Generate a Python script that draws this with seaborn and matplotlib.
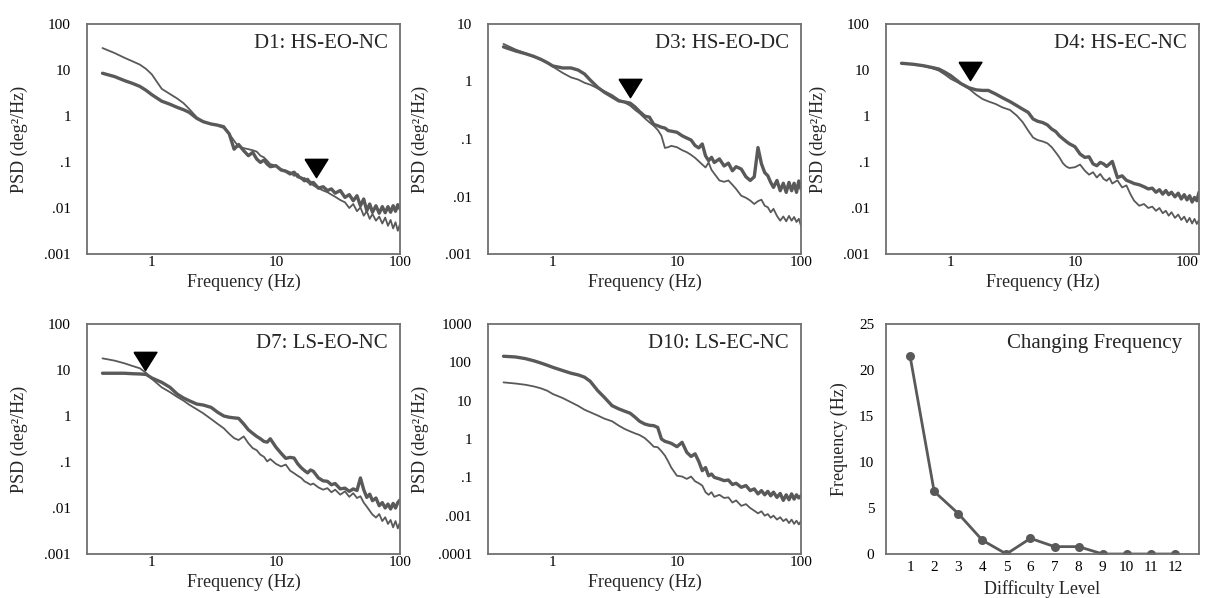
import matplotlib
matplotlib.use("Agg")
import matplotlib.pyplot as plt
import seaborn as sns

# frequency grid shared by all PSD panels (Hz)
freq_hz = [0.4, 0.5, 0.6, 0.7, 0.8, 0.9, 1.0, 1.2, 1.4, 1.6, 1.8, 2.0, 2.3, 2.6,
           3.0, 3.4, 3.8, 4.2, 4.6, 5.0, 5.5, 6.0, 6.5, 7.0, 7.5, 8.0, 8.5, 9.0,
           10, 11, 12, 13, 14, 15, 16, 17, 18, 19, 20, 22, 24, 26, 28, 30,
           33, 36, 39, 42, 45, 48, 51, 54, 57, 60, 64, 68, 72, 76, 80, 84, 88, 92, 96, 100]

# D1: HS-EO-NC
d1_thick = [8.5, 7.2, 5.9, 5.1, 4.4, 3.6, 2.9, 2.1, 1.8, 1.54, 1.37, 1.2, 0.89, 0.75,
            0.67, 0.63, 0.57, 0.41, 0.19, 0.24, 0.176, 0.137, 0.162, 0.116, 0.098, 0.110, 0.090, 0.079,
            0.083, 0.067, 0.063, 0.055, 0.060, 0.048, 0.045, 0.039, 0.042, 0.033, 0.036,
            0.027, 0.029, 0.024, 0.026, 0.021,
            0.024, 0.017, 0.0195, 0.0144, 0.0185, 0.0112, 0.0157, 0.0087, 0.0122, 0.0081,
            0.0112, 0.0077, 0.0107, 0.0079, 0.0107, 0.0081, 0.0112, 0.0085, 0.0118, 0.0095]
d1_thin = [30, 23.4, 18.5, 15.4, 13.1, 10.5, 8.0, 3.9, 3.0, 2.4, 1.9, 1.42, 0.94, 0.75,
           0.67, 0.64, 0.61, 0.41, 0.29, 0.215, 0.20, 0.19, 0.18, 0.168, 0.137, 0.126, 0.107, 0.090,
           0.083, 0.070, 0.065, 0.060, 0.050, 0.055, 0.043, 0.045, 0.036, 0.038, 0.031,
           0.027, 0.024, 0.022, 0.0195, 0.0176,
           0.0149, 0.0133, 0.0100, 0.0122, 0.0085, 0.0103, 0.0068, 0.0085, 0.0058, 0.0074,
           0.0053, 0.0065, 0.0046, 0.0062, 0.0041, 0.0055, 0.0036, 0.0049, 0.0032, 0.0045]

# D3: HS-EO-DC
d3_thick = [4.0, 3.4, 3.05, 2.74, 2.43, 2.13, 1.86, 1.72, 1.72, 1.58, 1.35, 1.06, 0.79, 0.65,
            0.54, 0.46, 0.44, 0.42, 0.36, 0.30, 0.25, 0.24, 0.18, 0.17, 0.16, 0.155, 0.14, 0.137,
            0.131, 0.114, 0.104, 0.096, 0.077, 0.070, 0.082, 0.051, 0.042, 0.048, 0.039,
            0.045, 0.034, 0.038, 0.028, 0.033,
            0.030, 0.022, 0.019, 0.022, 0.071, 0.037, 0.026, 0.023, 0.0176, 0.0144,
            0.019, 0.0126, 0.017, 0.0118, 0.0176, 0.0126, 0.017, 0.0118, 0.0186, 0.0135]
d3_thin = [4.5, 3.6, 3.1, 2.7, 2.4, 2.13, 1.81, 1.41, 1.18, 1.08, 0.95, 0.88, 0.76, 0.68,
           0.58, 0.48, 0.43, 0.38, 0.32, 0.28, 0.23, 0.195, 0.17, 0.144, 0.114, 0.070, 0.072, 0.076,
           0.072, 0.064, 0.059, 0.053, 0.047, 0.041, 0.036, 0.032, 0.039, 0.029, 0.025,
           0.019, 0.018, 0.019, 0.016, 0.0135,
           0.0103, 0.0095, 0.0085, 0.0074, 0.0083, 0.0088, 0.0069, 0.0065, 0.0053, 0.0061,
           0.0046, 0.0038, 0.0045, 0.0037, 0.0046, 0.0038, 0.0044, 0.0036, 0.0041, 0.0031]

# D4: HS-EC-NC
d4_thick = [14.0, 13.3, 12.4, 11.4, 10.5, 8.9, 7.5, 5.1, 4.1, 3.7, 3.6, 3.6, 3.0, 2.5,
            2.05, 1.68, 1.40, 1.20, 0.86, 0.77, 0.72, 0.64, 0.52, 0.46, 0.37, 0.32, 0.28, 0.25,
            0.215, 0.149, 0.126, 0.13, 0.091, 0.083, 0.098, 0.091, 0.080, 0.091, 0.103,
            0.046, 0.050, 0.040, 0.037, 0.034,
            0.032, 0.029, 0.026, 0.027, 0.022, 0.025, 0.020, 0.024, 0.0195, 0.022,
            0.0175, 0.021, 0.0157, 0.0195, 0.015, 0.0185, 0.0135, 0.017, 0.0144, 0.022]
d4_thin = [14.0, 13.3, 12.2, 11.0, 9.7, 7.9, 6.4, 5.0, 3.9, 2.9, 2.34, 2.08, 1.82, 1.54,
           1.35, 1.02, 0.73, 0.48, 0.34, 0.30, 0.28, 0.255, 0.21, 0.162, 0.126, 0.094, 0.080, 0.074,
           0.077, 0.088, 0.065, 0.053, 0.060, 0.046, 0.055, 0.043, 0.039, 0.045, 0.034,
           0.040, 0.028, 0.031, 0.020, 0.0144,
           0.0112, 0.0122, 0.0100, 0.0107, 0.0087, 0.0100, 0.0077, 0.0087, 0.0068, 0.0081,
           0.0061, 0.0072, 0.0055, 0.0065, 0.0049, 0.0061, 0.0046, 0.0058, 0.0045, 0.0055]

# D7: LS-EO-NC
d7_thick = [8.5, 8.5, 8.5, 8.3, 8.2, 8.0, 6.7, 5.4, 4.2, 3.0, 2.46, 2.15, 1.82, 1.73,
            1.54, 1.20, 1.0, 0.94, 0.91, 0.89, 0.67, 0.50, 0.42, 0.36, 0.32, 0.28, 0.27, 0.32,
            0.21, 0.155, 0.12, 0.126, 0.122, 0.091, 0.075, 0.065, 0.058, 0.067, 0.063,
            0.045, 0.039, 0.038, 0.032, 0.034,
            0.026, 0.027, 0.023, 0.026, 0.024, 0.045, 0.025, 0.017, 0.020, 0.0144,
            0.0165, 0.0112, 0.0131, 0.0100, 0.0122, 0.0095, 0.0126, 0.0100, 0.0131, 0.0150]
d7_thin = [17.9, 16.0, 14.0, 12.2, 10.9, 8.6, 6.4, 4.2, 3.3, 2.6, 2.15, 1.76, 1.40, 1.14,
           0.86, 0.67, 0.54, 0.41, 0.33, 0.30, 0.36, 0.255, 0.20, 0.18, 0.144, 0.13, 0.103, 0.116,
           0.091, 0.080, 0.088, 0.065, 0.057, 0.050, 0.045, 0.038, 0.035, 0.032, 0.034,
           0.028, 0.025, 0.027, 0.022, 0.025,
           0.0195, 0.023, 0.0175, 0.021, 0.0165, 0.018, 0.0131, 0.0107, 0.0087, 0.0072,
           0.0062, 0.0074, 0.0052, 0.0063, 0.0045, 0.0055, 0.0038, 0.0052, 0.0036, 0.0049]

# D10: LS-EC-NC
d10_thick = [144, 138, 125, 110, 96, 84, 74, 61, 52, 47, 41, 32, 18.2, 12.2,
             7.4, 6.1, 5.3, 4.7, 3.7, 2.9, 2.46, 2.28, 2.23, 2.0, 1.0, 0.87, 0.82, 0.77,
             0.63, 0.82, 0.45, 0.35, 0.41, 0.26, 0.149, 0.18, 0.11, 0.122, 0.10,
             0.091, 0.082, 0.085, 0.065, 0.070,
             0.055, 0.061, 0.045, 0.050, 0.037, 0.045, 0.035, 0.043, 0.033, 0.041,
             0.030, 0.038, 0.025, 0.035, 0.026, 0.037, 0.027, 0.035, 0.029, 0.033]
d10_thin = [30, 28, 26, 23.6, 21, 18.2, 14.9, 11.7, 9.1, 7.3, 5.8, 5.0, 4.1, 3.4,
            2.9, 2.23, 1.82, 1.58, 1.40, 1.27, 1.06, 0.82, 0.63, 0.61, 0.48, 0.37, 0.26, 0.18,
            0.11, 0.105, 0.091, 0.105, 0.079, 0.070, 0.061, 0.041, 0.035, 0.041, 0.031,
            0.035, 0.029, 0.030, 0.022, 0.025,
            0.018, 0.020, 0.0158, 0.0135, 0.0115, 0.013, 0.010, 0.011, 0.0088, 0.010,
            0.0079, 0.0091, 0.0072, 0.0082, 0.0064, 0.0079, 0.0061, 0.0074, 0.0059, 0.0072]

# changing frequency per difficulty level
difficulty_level = [1, 2, 3, 4, 5, 6, 7, 8, 9, 10, 11, 12]
changing_freq = [21.5, 6.8, 4.4, 1.5, 0.0, 1.7, 0.8, 0.8, 0.0, 0.0, 0.0, 0.0]

# triangle markers (D1, D3, D4, D7)
marker_freq = [21.0, 4.2, 1.42, 0.88]
marker_psd = [0.074, 0.77, 9.7, 15.4]

sns.set_theme(style="white")
plt.rcParams["font.family"] = ["Liberation Serif", "DejaVu Serif"]

LINE = "#595959"
SPINE = "#707070"
TRI = [(-1, 0.8), (1, 0.8), (0, -0.8), (-1, 0.8)]

fig = plt.figure(figsize=(12.05, 5.98), dpi=100)

W, H = 313 / 1205, 230 / 598
cols = [87 / 1205, 488 / 1205, 886 / 1205]
rows = [1 - 254 / 598, 1 - 554 / 598]


def style_box(ax):
    for s in ax.spines.values():
        s.set_color(SPINE)
        s.set_linewidth(1.3)


def log_panel(rect, title, thick, thin, yticks, ylabels, tri=None, last_right=False):
    ax = fig.add_axes(rect)
    sns.lineplot(x=freq_hz, y=thin, ax=ax, color=LINE, linewidth=1.3,
                 estimator=None, sort=False)
    sns.lineplot(x=freq_hz, y=thick, ax=ax, color=LINE, linewidth=2.4,
                 estimator=None, sort=False)
    if tri is not None:
        ax.plot([marker_freq[tri]], [marker_psd[tri]], linestyle="none",
                marker=TRI, markersize=16.5, color="black")
    ax.set_xscale("log")
    ax.set_yscale("log")
    ax.set_xlim(0.3, 100)
    ax.set_ylim(min(yticks), max(yticks))
    ax.set_xticks([1, 10, 100])
    ax.set_xticklabels(["1", "10", "100"])
    ax.set_yticks(yticks)
    ax.set_yticklabels(ylabels)
    ax.minorticks_off()
    ax.tick_params(axis="both", length=0, labelsize=11, colors="black")
    ax.tick_params(axis="y", pad=11.5)
    ax.tick_params(axis="x", pad=1.5)
    if last_right:
        ax.get_xticklabels()[-1].set_horizontalalignment("right")
    ax.set_xlabel("Frequency (Hz)", fontsize=13)
    ax.set_ylabel("PSD (deg²/Hz)", fontsize=13)
    ax.xaxis.set_label_coords(0.5, -0.085)
    ax.yaxis.set_label_coords(-0.19, 0.5)
    ax.text(0.962, 0.917, title, transform=ax.transAxes, ha="right", va="center",
            fontsize=15)
    style_box(ax)
    return ax


yt5 = [100, 10, 1, 0.1, 0.01, 0.001]
yl5 = ["100", "10", "1", ".1", ".01", ".001"]

log_panel([cols[0], rows[0], W, H], "D1: HS-EO-NC", d1_thick, d1_thin, yt5, yl5, tri=0)
log_panel([cols[1], rows[0], W, H], "D3: HS-EO-DC", d3_thick, d3_thin,
          [10, 1, 0.1, 0.01, 0.001], ["10", "1", ".1", ".01", ".001"], tri=1)
log_panel([cols[2], rows[0], W, H], "D4: HS-EC-NC", d4_thick, d4_thin, yt5, yl5, tri=2,
          last_right=True)
log_panel([cols[0], rows[1], W, H], "D7: LS-EO-NC", d7_thick, d7_thin, yt5, yl5, tri=3)
log_panel([cols[1], rows[1], W, H], "D10: LS-EC-NC", d10_thick, d10_thin,
          [1000, 100, 10, 1, 0.1, 0.01, 0.001],
          ["1000", "100", "10", "1", ".1", ".001", ".0001"])

# changing frequency panel
ax = fig.add_axes([cols[2], rows[1], W, H])
sns.lineplot(x=difficulty_level, y=changing_freq, ax=ax, color=LINE, linewidth=2.0,
             marker="o", markersize=6.5, markeredgewidth=0, estimator=None, sort=False)
ax.set_xlim(0, 13)
ax.set_ylim(0, 25)
ax.set_xticks(difficulty_level)
ax.set_yticks([0, 5, 10, 15, 20, 25])
ax.tick_params(axis="both", length=0, labelsize=11, colors="black")
ax.tick_params(axis="y", pad=8.5)
ax.tick_params(axis="x", pad=5)
ax.set_xlabel("Difficulty Level", fontsize=13)
ax.set_ylabel("Frequency (Hz)", fontsize=13)
ax.xaxis.set_label_coords(0.5, -0.115)
ax.yaxis.set_label_coords(-0.121, 0.5)
ax.text(0.946, 0.915, "Changing Frequency", transform=ax.transAxes, ha="right",
        va="center", fontsize=15)
style_box(ax)

fig.savefig("out.png", dpi=100)
